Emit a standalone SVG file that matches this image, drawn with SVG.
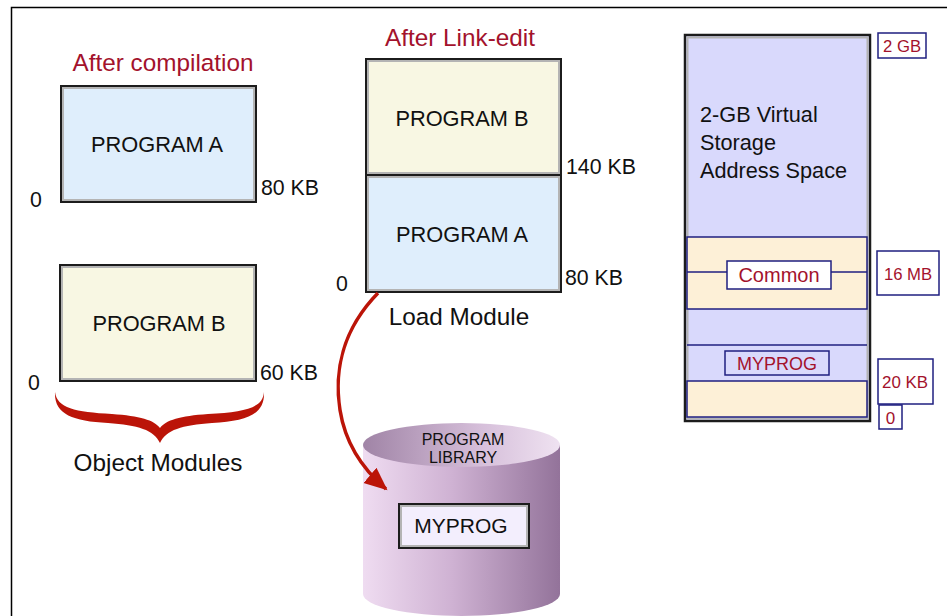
<svg xmlns="http://www.w3.org/2000/svg" width="947" height="616" viewBox="0 0 947 616">
<defs>
<style>
.t{font-family:"Liberation Sans",Arial,sans-serif;fill:#111}
.red{fill:#a3122c}
.ob{stroke:#1c1c1c;stroke-width:2}
.ib{fill:none;stroke:#b4b4b4;stroke-width:2}
.nv{stroke:#1f1f80;stroke-width:1.5}
.lbl{fill:#fff;stroke:#1f1f80;stroke-width:1.5}
</style>
<linearGradient id="cylBody" x1="0" y1="0" x2="1" y2="0">
<stop offset="0" stop-color="#efdcf1"/>
<stop offset="0.45" stop-color="#cfb2d3"/>
<stop offset="1" stop-color="#93739a"/>
</linearGradient>
<linearGradient id="cylTop" x1="0" y1="0" x2="1" y2="0">
<stop offset="0" stop-color="#a084a6"/>
<stop offset="0.6" stop-color="#d6bfda"/>
<stop offset="1" stop-color="#efe2f1"/>
</linearGradient>
<marker id="ah" markerUnits="userSpaceOnUse" markerWidth="26" markerHeight="22" refX="21" refY="11" orient="auto">
<path d="M0,1 L23,11 L0,21 Z" fill="#bb1408"/>
</marker>
</defs>
<rect width="947" height="616" fill="#fff"/>
<path d="M11.5,616 V7.5 H947" fill="none" stroke="#000" stroke-width="1.5"/>

<g id="obj-a">
<text class="t red" x="163" y="71" font-size="24.3" text-anchor="middle">After compilation</text>
<rect class="ob" x="61" y="86" width="195" height="116" fill="#dfeefc"/>
<rect class="ib" x="63" y="88" width="191" height="112"/>
<text class="t" x="157" y="152" font-size="21.8" text-anchor="middle">PROGRAM A</text>
<text class="t" x="30" y="207" font-size="21.3">0</text>
<text class="t" x="261" y="195" font-size="21.3">80 KB</text>
</g>

<g id="obj-b">
<rect class="ob" x="60" y="265" width="196" height="116" fill="#f8f7e3"/>
<rect class="ib" x="62" y="267" width="192" height="112"/>
<text class="t" x="159" y="331" font-size="21.8" text-anchor="middle">PROGRAM B</text>
<text class="t" x="28" y="390" font-size="21.3">0</text>
<text class="t" x="260" y="380" font-size="21.3">60 KB</text>
</g>

<g id="brace">
<path d="M55,392 C57,408 75,412 112,414 C140,416 154,420 160,428 C166,420 180,416 208,414 C245,412 263,408 264,392 C265,414 248,421 212,423 C182,425 166,430 160,443 C154,430 138,425 108,423 C72,421 54,414 55,392 Z" fill="#bb1408"/>
<text class="t" x="158" y="471" font-size="24.3" text-anchor="middle">Object Modules</text>
</g>

<g id="load-module">
<text class="t red" x="460" y="46" font-size="24.3" text-anchor="middle">After Link-edit</text>
<rect class="ob" x="366" y="59" width="195" height="116" fill="#f8f7e3"/>
<rect class="ib" x="368" y="61" width="191" height="112"/>
<rect class="ob" x="366" y="175" width="195" height="117" fill="#dfeefc"/>
<rect class="ib" x="368" y="177" width="191" height="113"/>
<text class="t" x="462" y="126" font-size="21.8" text-anchor="middle">PROGRAM B</text>
<text class="t" x="462" y="242" font-size="21.8" text-anchor="middle">PROGRAM A</text>
<text class="t" x="566" y="174" font-size="21.3">140 KB</text>
<text class="t" x="565" y="285" font-size="21.3">80 KB</text>
<text class="t" x="336" y="291" font-size="21.3">0</text>
<text class="t" x="459" y="325" font-size="24.3" text-anchor="middle">Load Module</text>
</g>

<g id="library">
<path d="M363,445 V594 A98.5,22 0 0 0 560,594 V445 Z" fill="url(#cylBody)"/>
<ellipse cx="461.5" cy="445" rx="98.5" ry="22" fill="url(#cylTop)"/>
<text class="t" x="463" y="445" font-size="16" text-anchor="middle">PROGRAM</text>
<text class="t" x="463" y="463" font-size="16" text-anchor="middle">LIBRARY</text>
<rect class="ob" x="399" y="504" width="130" height="44" fill="#f3eefd"/>
<rect class="ib" x="401" y="506" width="126" height="40"/>
<text class="t" x="461" y="533" font-size="21" text-anchor="middle">MYPROG</text>
</g>

<g id="address-space">
<rect x="685" y="35" width="185" height="386" fill="#d9d9fc" stroke="#1c1c1c" stroke-width="2.5"/>
<rect x="687.5" y="37.5" width="180" height="381" fill="none" stroke="#b4b4b4" stroke-width="2"/>
<text class="t" x="700" y="122" font-size="21.7">2-GB Virtual</text>
<text class="t" x="700" y="150" font-size="21.7">Storage</text>
<text class="t" x="700" y="178" font-size="21.7">Address Space</text>
<rect class="nv" x="687" y="237" width="180" height="72" fill="#fdf0d7"/>
<line class="nv" x1="687" y1="272" x2="867" y2="272"/>
<rect class="lbl" x="727" y="261" width="104" height="28"/>
<text class="t red" x="779" y="282" font-size="20" text-anchor="middle">Common</text>
<line class="nv" x1="687" y1="345" x2="867" y2="345"/>
<rect class="nv" x="725" y="351" width="104" height="24" fill="#d9d9fc"/>
<text class="t red" x="777" y="370" font-size="18" text-anchor="middle">MYPROG</text>
<rect class="nv" x="687" y="381" width="180" height="36" fill="#fdf0d7"/>
</g>

<g id="addr-labels">
<rect class="lbl" x="878" y="33" width="48" height="25"/>
<text class="t red" x="902" y="52" font-size="16.7" text-anchor="middle">2 GB</text>
<rect class="lbl" x="877" y="251" width="62" height="44"/>
<text class="t red" x="908" y="280" font-size="16.7" text-anchor="middle">16 MB</text>
<rect class="lbl" x="878" y="359" width="55" height="45"/>
<text class="t red" x="905" y="388" font-size="16.9" text-anchor="middle">20 KB</text>
<rect class="lbl" x="879" y="405" width="23" height="24"/>
<text class="t red" x="890.5" y="424" font-size="17" text-anchor="middle">0</text>
</g>

<g id="connectors">
<path d="M378,293 C342,330 334,372 340,410 C346,448 366,472 386,489" fill="none" stroke="#bb1408" stroke-width="3.5" marker-end="url(#ah)"/>
</g>
</svg>
